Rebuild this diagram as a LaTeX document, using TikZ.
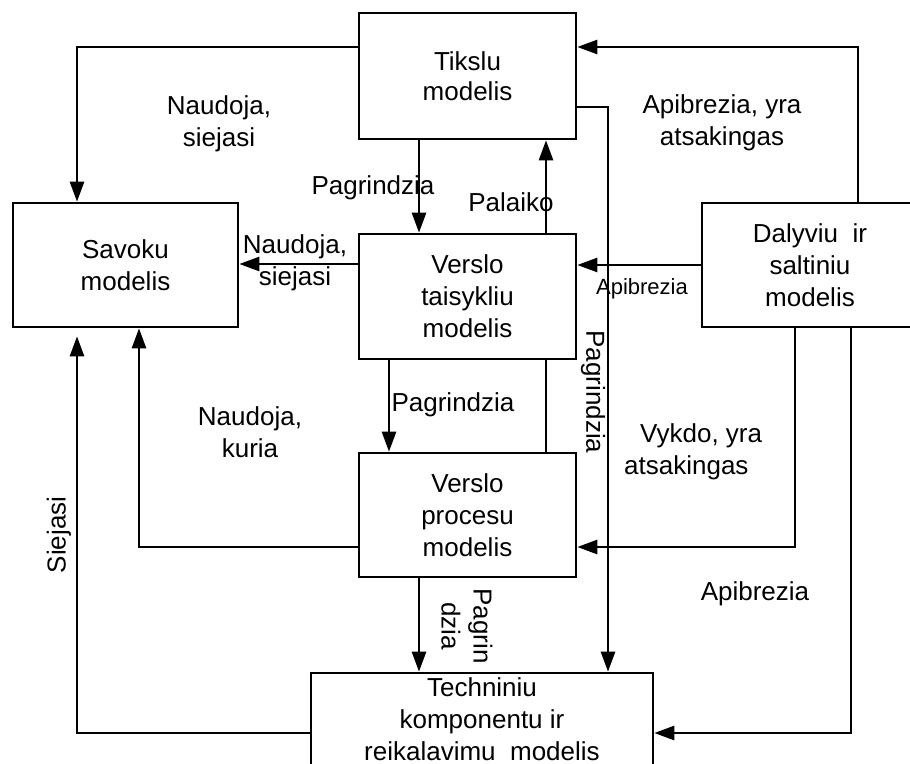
\documentclass[tikz,border=0pt]{standalone}
\usepackage{fontspec}
\setmainfont{Liberation Sans}
\usetikzlibrary{arrows.meta}
\begin{document}
\begin{tikzpicture}[x=1pt,y=-1pt,
  box/.style={draw, line width=2.6pt, align=center, inner sep=0pt,
    font=\fontsize{26}{32}\selectfont},
  lbl/.style={align=center, inner sep=0pt, font=\fontsize{26}{32}\selectfont},
  smalllbl/.style={align=center, inner sep=0pt, font=\fontsize{22}{28}\selectfont},
  link/.style={line width=2.6pt},
  arr/.style={link, -{Triangle[length=20pt,width=14pt]}}]
\useasboundingbox (0,0) rectangle (910,763);
\clip (0,0) rectangle (910,763);

% model boxes
\node[box, minimum width=217, minimum height=126, font=\fontsize{26}{30}\selectfont]
  (tik) at (467.5,76) {Tikslu\\modelis};
\node[box, minimum width=225, minimum height=124] (sav) at (125.5,265) {Savoku\\modelis};
\node[box, minimum width=217, minimum height=125] (vtr) at (467.5,296.5) {Verslo\\taisykliu\\modelis};
\node[box, minimum width=216, minimum height=124] (dal) at (810,265) {Dalyviu\ \ ir\\saltiniu\\modelis};
\node[box, minimum width=217, minimum height=124] (vpr) at (467.5,515) {Verslo\\procesu\\modelis};
\node[box, minimum width=342, minimum height=92] (tech) at (482,719)
  {Techniniu\\komponentu ir\\reikalavimu\ \ modelis};

% connectors
\coordinate (k1) at (77,47);
\draw[arr] (tik.west |- k1) -- (k1) -- (k1 |- sav.north);
\draw[arr] ([xshift=-48.5pt]tik.south) -- ([xshift=-48.5pt]vtr.north);
\draw[arr] ([xshift=78.5pt]vtr.north) -- ([xshift=78.5pt]tik.south);
\draw[arr] ([yshift=32.5pt]vtr.west) -- ([yshift=32.5pt]vtr.west -| sav.east);
\draw[arr] (dal.west) -- (dal.west -| vtr.east);
\draw[arr] ([xshift=48pt]dal.north) |- ([yshift=29pt]tik.east);
\draw[arr] ([yshift=-31pt]tik.east) -| ([xshift=126pt]tech.north);
\draw[arr] ([xshift=-78.5pt]vtr.south) -- ([xshift=-78.5pt]vpr.north);
\draw[link] ([xshift=78.5pt]vtr.south) -- ([xshift=78.5pt]vpr.north);
\draw[arr] ([yshift=-32pt]vpr.west) -| ([xshift=13.5pt]sav.south);
\draw[arr, shorten >=8pt] ([yshift=-14pt]tech.west) -| ([xshift=-48.5pt]sav.south);
\draw[arr] ([xshift=-15pt]dal.south) |- ([yshift=-32pt]vpr.east);
\draw[arr] ([xshift=41pt]dal.south) |- ([yshift=-14pt]tech.east);
\draw[arr] ([xshift=-48.5pt]vpr.south) -- ([xshift=-48.5pt]vpr.south |- tech.north);

% connector labels
\node[lbl] (l1) at (219,124) {Naudoja,\\siejasi};
\node[lbl] (l2) at (373,188) {Pagrindzia};
\node[lbl] (l3) at (511,202) {Palaiko};
\node[lbl] (l4) at (295,263) {Naudoja,\\siejasi};
\node[smalllbl] (l5) at (642,289) {Apibrezia};
\node[lbl] (l6) at (722,123) {Apibrezia, yra\\atsakingas};
\node[lbl, rotate=-90] (l7) at (593,392) {Pagrindzia};
\node[lbl] (l8) at (453,405) {Pagrindzia};
\node[lbl] (l9) at (250,432) {Naudoja,\\kuria};
\node[lbl, rotate=90] (l10) at (59,535) {Siejasi};
\node[lbl, align=left, anchor=west] (l11) at (624,452) {\hspace*{16pt}Vykdo, yra\\atsakingas};
\node[lbl] (l12) at (755,594) {Apibrezia};
\node[lbl, rotate=-90] (l13) at (467,626) {Pagrin\\dzia};
\end{tikzpicture}
\end{document}
